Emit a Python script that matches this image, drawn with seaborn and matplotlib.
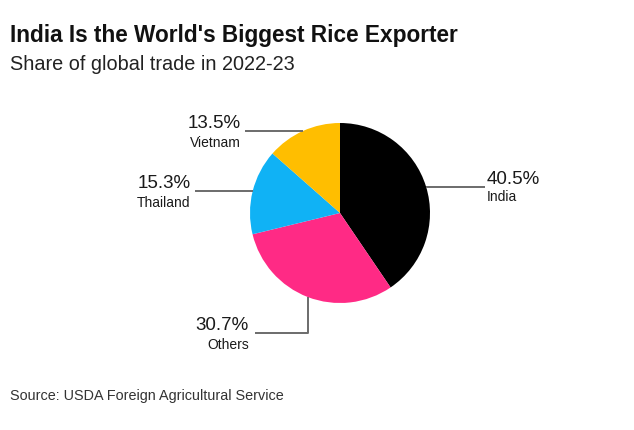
import numpy as np
import seaborn as sns
import matplotlib.pyplot as plt

countries = ["India", "Others", "Thailand", "Vietnam"]
shares = [40.5, 30.7, 15.3, 13.5]
colors = ["#000000", "#FF2A85", "#10B2F5", "#FFBE00"]

sns.set_theme(style="white")
plt.rcParams["font.family"] = ["Liberation Sans", "DejaVu Sans"]

W, H = 634, 430
fig = plt.figure(figsize=(W / 100, H / 100), dpi=100)
ax = fig.add_axes([0, 0, 1, 1])

cx, cy, r = 340, H - 213, 90
wedges, _ = ax.pie(
    shares,
    colors=colors,
    startangle=90,
    counterclock=False,
    center=(cx, cy),
    radius=r,
    wedgeprops=dict(linewidth=0),
    frame=True,
)
ax.set_xlim(0, W)
ax.set_ylim(0, H)
ax.set_aspect("equal")
ax.axis("off")

line_kw = dict(color="#6b6b6b", lw=1.4, solid_capstyle="butt")
pct_kw = dict(fontsize=13.5, color="#1a1a1a", va="baseline")
name_kw = dict(fontsize=10, color="#1a1a1a", va="baseline")

# leader lines start at the middle of each wedge's arc
for w, name, val in zip(wedges, countries, shares):
    ang = np.deg2rad((w.theta1 + w.theta2) / 2)
    px, py = cx + r * np.cos(ang), cy + r * np.sin(ang)
    pct = f"{val}%"
    if name == "India":
        x_end = px + 59
        ax.plot([px, x_end], [py, py], **line_kw)
        ax.text(x_end + 2, py + 3, pct, ha="left", **pct_kw)
        ax.text(x_end + 2, py - 14, name, ha="left", **name_kw)
    elif name == "Others":
        y_end = py - 36
        x_end = px - 53
        ax.plot([px, px, x_end], [py, y_end, y_end], **line_kw)
        ax.text(x_end - 6, y_end + 3, pct, ha="right", **pct_kw)
        ax.text(x_end - 6, y_end - 16, name, ha="right", **name_kw)
    else:
        x_end = px - 58
        ax.plot([x_end, px], [py, py], **line_kw)
        ax.text(x_end - 4, py + 3, pct, ha="right", **pct_kw)
        ax.text(x_end - 4, py - 16, name, ha="right", **name_kw)

fig.text(10, H - 42, "India Is the World's Biggest Rice Exporter",
         transform=None, fontsize=16.3, fontweight="bold", color="#111111",
         ha="left", va="baseline")
fig.text(10, H - 70, "Share of global trade in 2022-23", transform=None,
         fontsize=14.3, color="#222222", ha="left", va="baseline")
fig.text(10, H - 400, "Source: USDA Foreign Agricultural Service",
         transform=None, fontsize=10.4, color="#333333", ha="left",
         va="baseline")

fig.savefig("out.png", dpi=100, facecolor="white")
